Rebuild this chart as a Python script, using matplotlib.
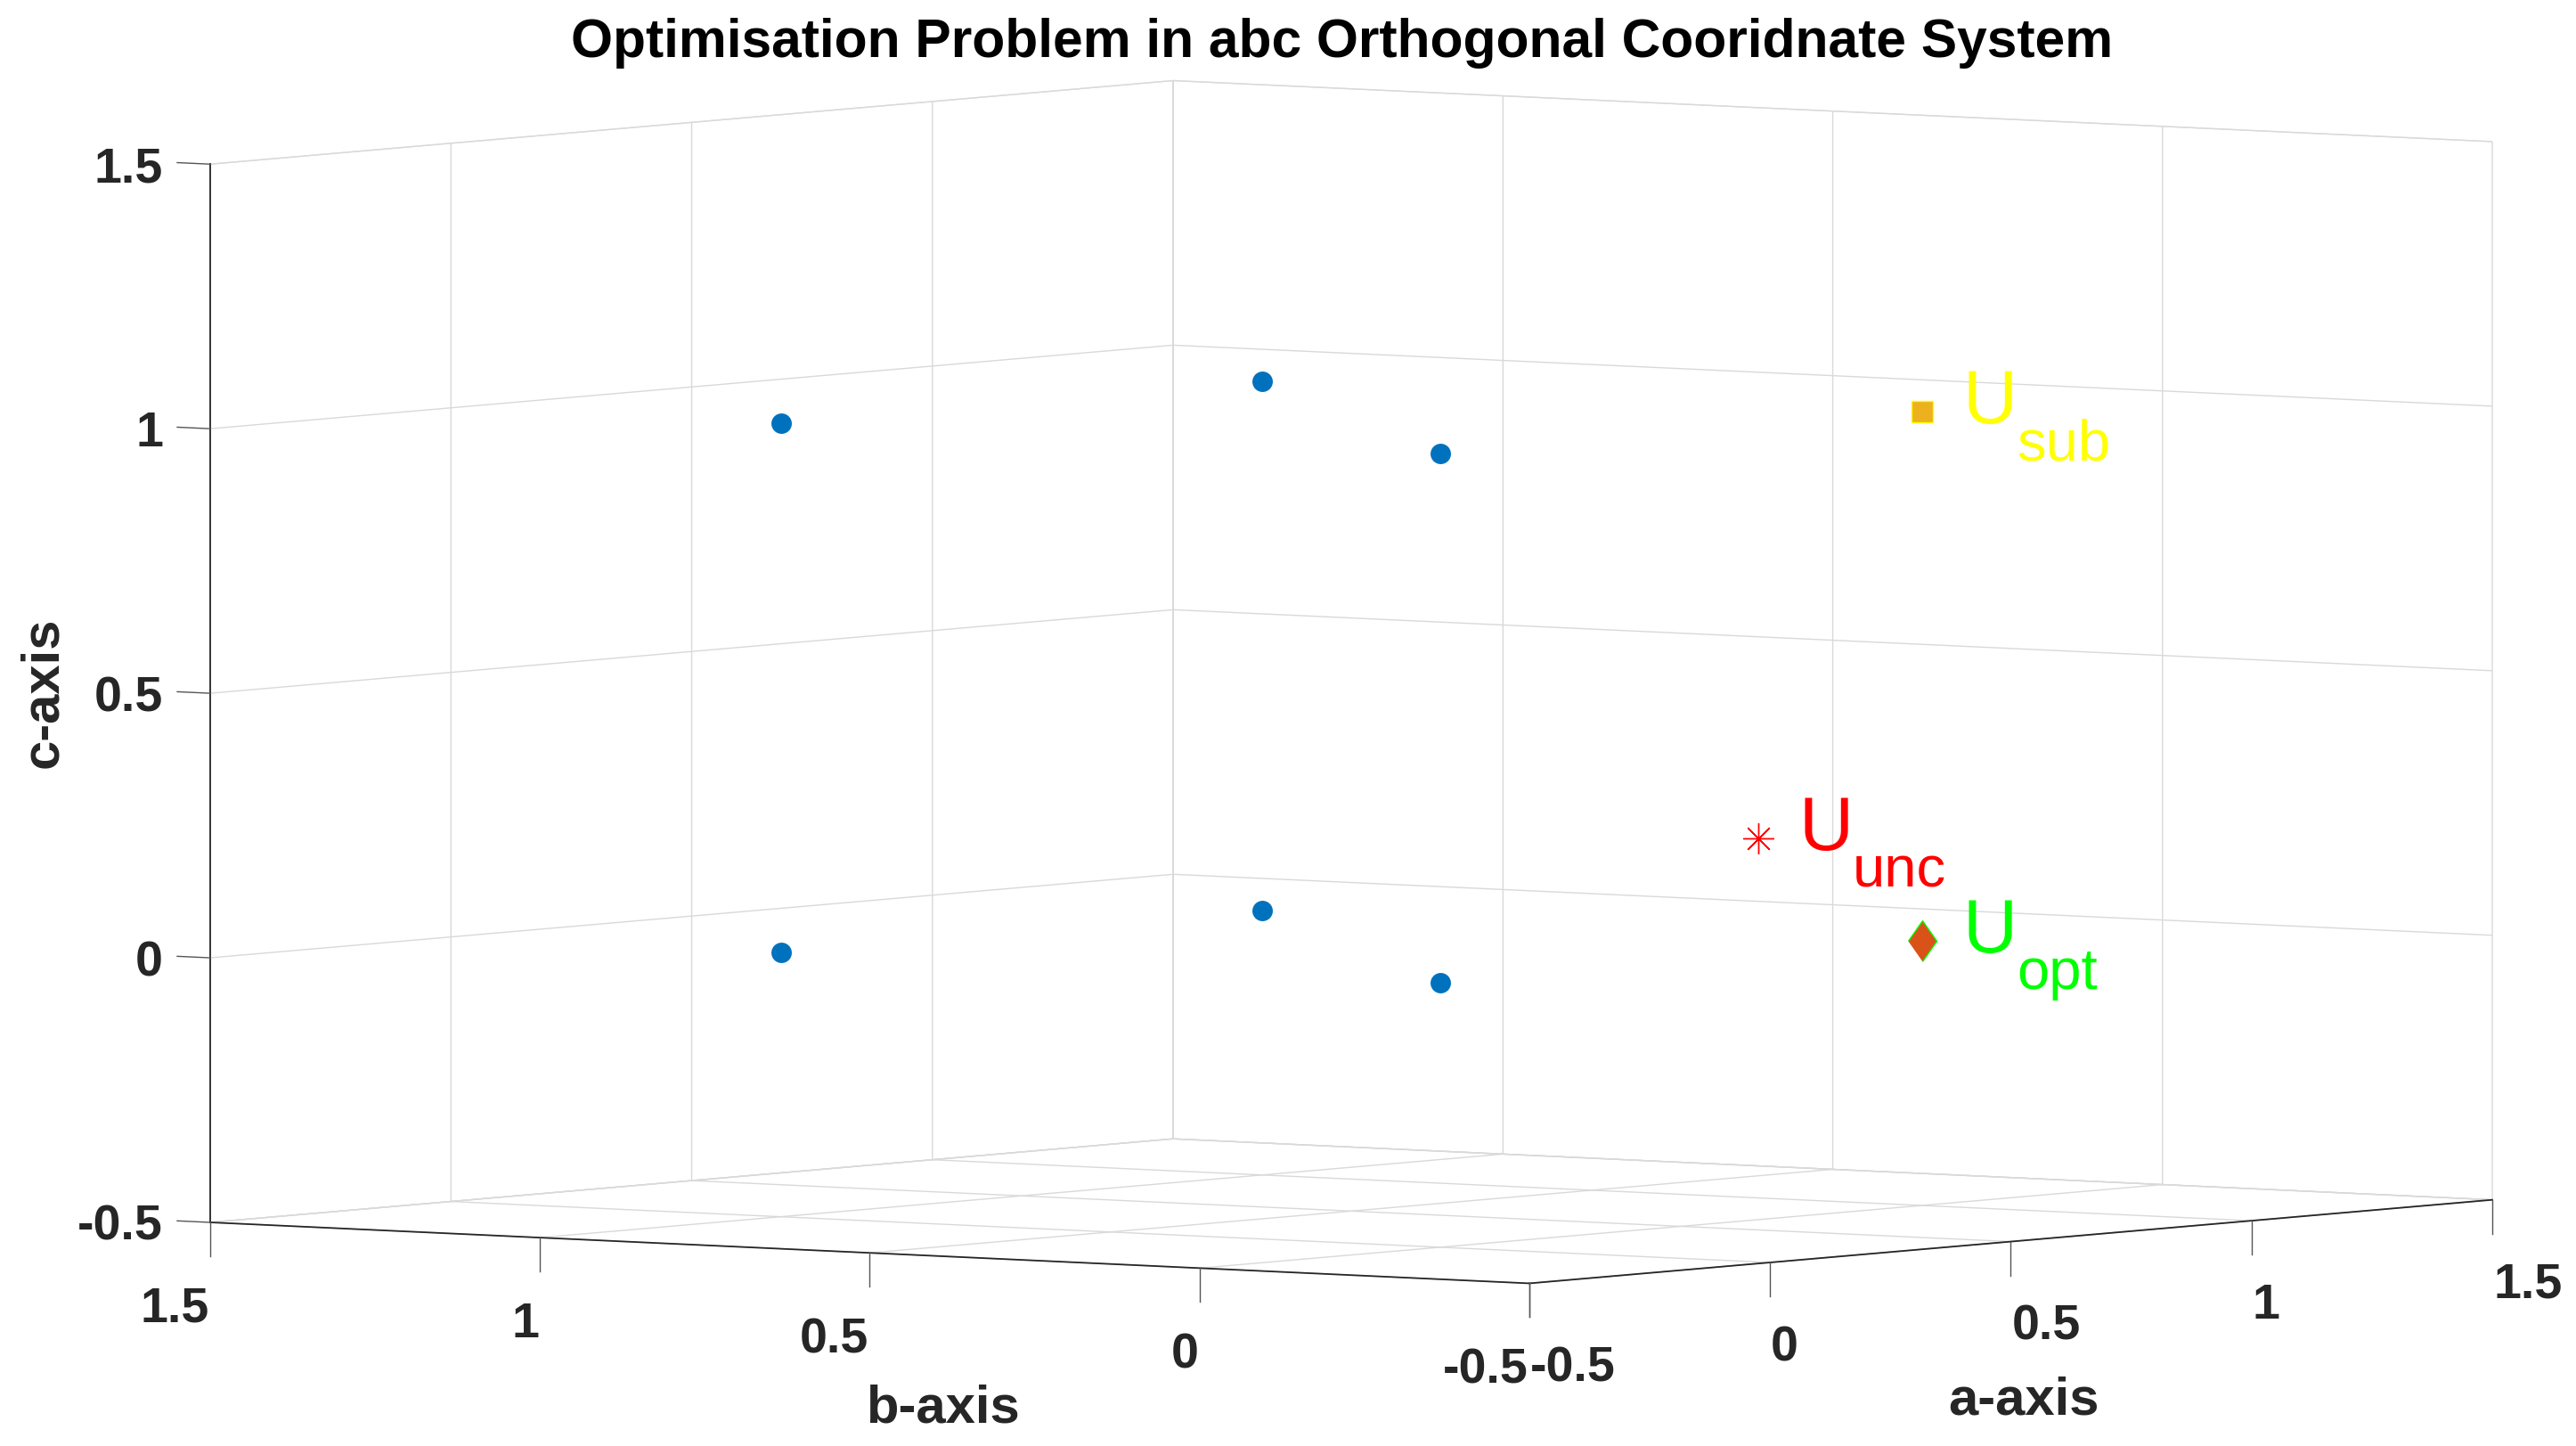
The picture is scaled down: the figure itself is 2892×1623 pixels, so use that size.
import matplotlib
matplotlib.use("Agg")
import matplotlib.pyplot as plt
from matplotlib.transforms import Affine2D
from mpl_toolkits.mplot3d import proj3d

# ---- data ----
vertex_a = [0, 1, 0, 0, 1, 0]
vertex_b = [1, 1, 0, 1, 1, 0]
vertex_c = [1, 1, 1, 0, 0, 0]
u_sub = (1, 0, 1)
u_opt = (1, 0, 0)
u_unc = (0.66, 0, 0.22)
tick_values = [-0.5, 0, 0.5, 1, 1.5]
tick_labels = ["-0.5", "0", "0.5", "1", "1.5"]
title_text = "Optimisation Problem in abc Orthogonal Cooridnate System"

# ---- style ----
W, H = 2892, 1624
plt.rcParams.update({
    "font.family": ["Liberation Sans", "DejaVu Sans"],
    "grid.color": "#d9d9d9",
    "grid.linewidth": 1.0,
    "xtick.major.width": 0, "ytick.major.width": 0,
    "axes.linewidth": 1.3,
    "axes.edgecolor": "#262626",
})
TXT = "#262626"
fig = plt.figure(figsize=(W / 100, H / 100), dpi=100, facecolor="white")
ax = fig.add_subplot(projection="3d", proj_type="ortho")
ax.set_box_aspect((1, 1, 0.6491))
ax.view_init(elev=3.63, azim=216.13)
lim = (tick_values[0], tick_values[-1])
ax.set_xlim(*lim, view_margin=0)
ax.set_ylim(*lim, view_margin=0)
ax.set_zlim(*lim, view_margin=0)


def data_px(x, y, z):
    u, v, _ = proj3d.proj_transform(x, y, z, ax.get_proj())
    return ax.transData.transform((u, v))


# fit the cube onto the reference box (left corner 236,1373; right 2798,1349)
def place(x0, y0, side):
    ax.set_position([x0 / W, y0 / H, side / W, side / H])
    ax.apply_aspect()


side = 1600.0
place(0, 0, side)
a0, b0 = data_px(-0.5, 1.5, -0.5), data_px(1.5, -0.5, -0.5)
side *= (2798 - 236) / (b0[0] - a0[0])
place(0, 0, side)
a0 = data_px(-0.5, 1.5, -0.5)
x0, y0 = 236 - a0[0], (H - 1373) - a0[1]
place(x0, y0, side)

# panes, grid, axes
for axis in (ax.xaxis, ax.yaxis, ax.zaxis):
    axis.set_pane_color((1, 1, 1, 1))
    axis.pane.set_edgecolor("#e2e2e2")
    axis.pane.set_linewidth(1.0)
    axis._axinfo["tick"]["inward_factor"] = 0
    axis._axinfo["tick"]["outward_factor"] = 0
    axis._axinfo["axisline"]["color"] = "#262626"
    axis.line.set_color("#262626")
    axis.line.set_linewidth(1.3)
    axis.set_rotate_label(False)

ax.set_xticks(tick_values)
ax.set_yticks(tick_values)
ax.set_zticks(tick_values)
kw = dict(fontsize=40, fontweight="bold", color=TXT)
ax.set_xticklabels(tick_labels, **kw)
ax.set_yticklabels(tick_labels, **kw)
ax.set_zticklabels(tick_labels, **kw)
lab = dict(fontsize=43, fontweight="bold", color=TXT)
ax.set_xlabel("a-axis", **lab)
ax.set_ylabel("b-axis", **lab)
ax.set_zlabel("c-axis", rotation=90, **lab)
ax.zaxis.set_ticks_position("upper")
ax.zaxis.set_label_position("upper")

# tick marks: downward on a and b, toward +b on c
TICK_COL, TICK_LW = "#555555", 1.0
T_DOWN, T_SIDE = 0.064, 0.05
for t in tick_values:
    ax.plot([t, t], [lim[0], lim[0]], [lim[0], lim[0] - T_DOWN], color=TICK_COL, lw=TICK_LW)
    ax.plot([lim[0], lim[0]], [t, t], [lim[0], lim[0] - T_DOWN], color=TICK_COL, lw=TICK_LW)
    ax.plot([lim[0], lim[0]], [lim[1], lim[1] + T_SIDE], [t, t], color=TICK_COL, lw=TICK_LW)

# marks
ax.computed_zorder = False
ax.plot(vertex_a, vertex_b, vertex_c, "o", color="#0072BD", ms=16.5, mew=0, zorder=5)
ax.plot(*[[v] for v in u_sub], "s", mfc="#EDB120", mec="#FFFF00", ms=17, mew=1.0, zorder=6)
ax.plot(*[[v] for v in u_opt], marker=[(-0.7, 0), (0, 1), (0.7, 0), (0, -1)], ls="none",
        mfc="#D95319", mec="#00FF00", ms=33, mew=1.0, zorder=6)
ax.plot(*[[v] for v in u_unc], marker=(8, 2, 0), ls="none", color="#FF0000", ms=25, mew=1.0, zorder=6)


def label_point(p, sub, col, sub_dx):
    # labels sit at a fixed pixel offset from the projected point
    u, v, _ = proj3d.proj_transform(*p, ax.get_proj())
    for s, fs, dx, dy in (("U", 61, 46, -12), (sub, 47, sub_dx, -53)):
        ax.text2D(u, v, s, color=col, fontsize=fs, fontweight="normal", ha="left", va="baseline", zorder=7,
                  transform=ax.transData + Affine2D().translate(dx, dy))


label_point(u_sub, "sub", "#FFFF00", 107)
label_point(u_opt, "opt", "#00FF00", 107)
label_point(u_unc, "unc", "#FF0000", 106)

# title in axes fraction computed from the wanted pixel position
bb = ax.get_position()
ax.set_title(title_text, fontsize=43.6, fontweight="bold", color="black", va="center",
             x=(1507 / W - bb.x0) / bb.width, y=1.0)
ax.title.set_y(((H - 57) / H - bb.y0) / bb.height)

# first draw fixes the native positions, then shift text to its place
fig.canvas.draw()


def pin(artist, px, py):
    # mplot3d resets these transforms while drawing, so the shift is bound to the artist
    cur = ax.transData.transform(artist.get_position())
    tr = ax.transData + Affine2D().translate(px - cur[0], (H - py) - cur[1])
    artist.get_transform = lambda: tr


e = lim[0]
for t, tk in zip(tick_values, ax.xaxis.get_major_ticks()):
    p = data_px(t, e, e)
    tk.label1.set_ha("left"); tk.label1.set_va("baseline")
    pin(tk.label1, p[0] + 1, (H - p[1]) + 109)
for t, tk in zip(tick_values, ax.yaxis.get_major_ticks()):
    p = data_px(e, t, e)
    tk.label1.set_ha("right"); tk.label1.set_va("baseline")
    pin(tk.label1, p[0] - 1, (H - p[1]) + 111)
for t, tk in zip(tick_values, ax.zaxis.get_major_ticks()):
    p = data_px(e, lim[1], t)
    tk.label1.set_ha("right"); tk.label1.set_va("baseline")
    pin(tk.label1, p[0] - 53, (H - p[1]) + 19)
pin(ax.xaxis.label, 2272, 1572)
pin(ax.yaxis.label, 1058, 1581)
pin(ax.zaxis.label, 49, 777)

fig.savefig("out.png", dpi=100, facecolor="white")
